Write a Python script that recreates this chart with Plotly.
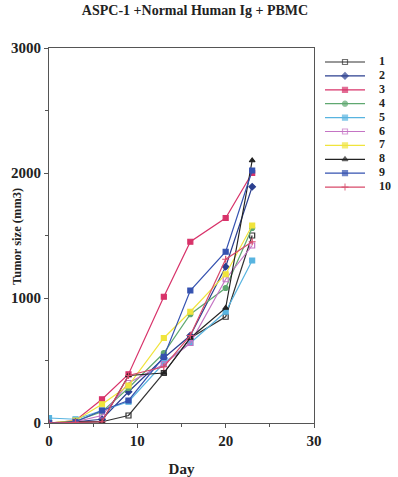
import plotly.graph_objects as go

days = [0, 3, 6, 9, 13, 16, 20, 23]
series_names = ["1", "2", "3", "4", "5", "6", "7", "8", "9", "10"]
s1 = [0, 5, 10, 60, 400, 680, 850, 1500]
s2 = [0, 10, 30, 250, 520, 700, 1250, 1890]
s3 = [0, 20, 190, 390, 1010, 1450, 1640, 2000]
s4 = [0, 15, 90, 280, 560, 870, 1080, 1560]
s5 = [40, 30, 100, 170, 480, 640, 890, 1300]
s6 = [0, 10, 60, 320, 470, 640, 1150, 1420]
s7 = [0, 20, 150, 300, 680, 890, 1190, 1580]
s8 = [0, 10, 10, 380, 400, 680, 920, 2100]
s9 = [0, 10, 100, 180, 530, 1060, 1370, 2020]
s10 = [0, 5, 10, 380, 450, 700, 1310, 1450]
values = [s1, s2, s3, s4, s5, s6, s7, s8, s9, s10]

colors = ["#333333", "#2b3f8f", "#d8336a", "#5fa870", "#58b4e0",
          "#c474c4", "#f0e43c", "#222222", "#3552b0", "#d84a6a"]
symbols = ["square-open", "diamond", "square", "circle", "square",
           "square-open", "square", "triangle-up", "square", "cross-thin"]

serif = "Liberation Serif, Times New Roman, serif"
W, H = 398, 477
L, R, T, B = 49, 0, 48, 54
pw = W - L - R
main_right = 314
leg_left = 325

fig = go.Figure()
for name, vals, c, sym in zip(series_names, values, colors, symbols):
    fig.add_trace(go.Scatter(
        x=days, y=vals, name=name, mode="lines+markers",
        line=dict(color=c, width=1.2),
        marker=dict(color=c, symbol=sym, size=5, line=dict(color=c, width=1.2)),
        showlegend=False,
    ))

# custom compact legend on its own axes
for i, (name, c, sym) in enumerate(zip(series_names, colors, symbols)):
    fig.add_trace(go.Scatter(
        x=[0, 20, 40], y=[i, i, i], mode="lines+markers",
        line=dict(color=c, width=1.2),
        marker=dict(color=c, symbol=sym, size=[0, 5, 0], line=dict(color=c, width=1.2)),
        xaxis="x2", yaxis="y2", showlegend=False, hoverinfo="skip",
    ))
fig.add_trace(go.Scatter(
    x=[54] * len(series_names), y=list(range(len(series_names))),
    mode="text", text=["<b>%s</b>" % n for n in series_names],
    textposition="middle right",
    textfont=dict(family=serif, size=12, color="#222"),
    xaxis="x2", yaxis="y2", showlegend=False, hoverinfo="skip",
))

step = 13.9
top_v = -(62 - T) / step
bot_v = top_v + (H - T - B) / step

fig.update_layout(
    width=W, height=H,
    margin=dict(l=L, r=R, t=T, b=B, autoexpand=False),
    paper_bgcolor="white", plot_bgcolor="white",
    title=dict(text="<b>ASPC-1 +Normal Human Ig + PBMC</b>",
               x=(195 - L) / pw, xanchor="center", xref="paper", y=1 - 5 / H, yanchor="top",
               font=dict(family=serif, size=14, color="#222")),
    showlegend=False,
    font=dict(family=serif, color="#222"),
    xaxis2=dict(domain=[(leg_left - L) / pw, 1], range=[0, W - leg_left], visible=False,
                fixedrange=True),
    yaxis2=dict(domain=[0, 1], range=[bot_v, top_v], visible=False, anchor="x2",
                fixedrange=True),
    annotations=[dict(text="<b>Tumor size (mm3)</b>", textangle=-90,
                      xref="paper", yref="paper",
                      x=(17 - L) / pw, y=(H - B - 237) / (H - T - B),
                      xanchor="center", yanchor="middle", showarrow=False,
                      font=dict(family=serif, size=12.5, color="#222"))],
)
fig.update_layout(xaxis=dict(
    domain=[0, (main_right - L) / pw], automargin=False,
    range=[0, 30], tickvals=[0, 10, 20, 30],
    ticktext=["<b>0</b>", "<b>10</b>", "<b>20</b>", "<b>30</b>"],
    ticks="outside", ticklen=4, tickcolor="#555",
    minor=dict(tickvals=[5, 15, 25], ticks="outside", ticklen=3, tickcolor="#555"),
    showline=True, linecolor="#555", linewidth=1, mirror=True,
    showgrid=False, zeroline=False,
    tickfont=dict(family=serif, size=15, color="#222"),
    title=dict(text="<b>Day</b>", font=dict(family=serif, size=15, color="#222"), standoff=16),
))
fig.update_layout(yaxis=dict(
    automargin=False,
    range=[0, 3000], tickvals=[0, 1000, 2000, 3000],
    ticktext=["<b>0</b>", "<b>1000</b>", "<b>2000</b>", "<b>3000</b>"],
    ticks="outside", ticklen=4, tickcolor="#555",
    minor=dict(tickvals=[500, 1500, 2500], ticks="outside", ticklen=3, tickcolor="#555"),
    showline=True, linecolor="#555", linewidth=1, mirror=True,
    showgrid=False, zeroline=False,
    tickfont=dict(family=serif, size=15, color="#222"),
))
fig.write_html("out.html", config={"displayModeBar": False},
               post_script="document.body.style.margin='0';document.body.style.overflow='hidden';")
